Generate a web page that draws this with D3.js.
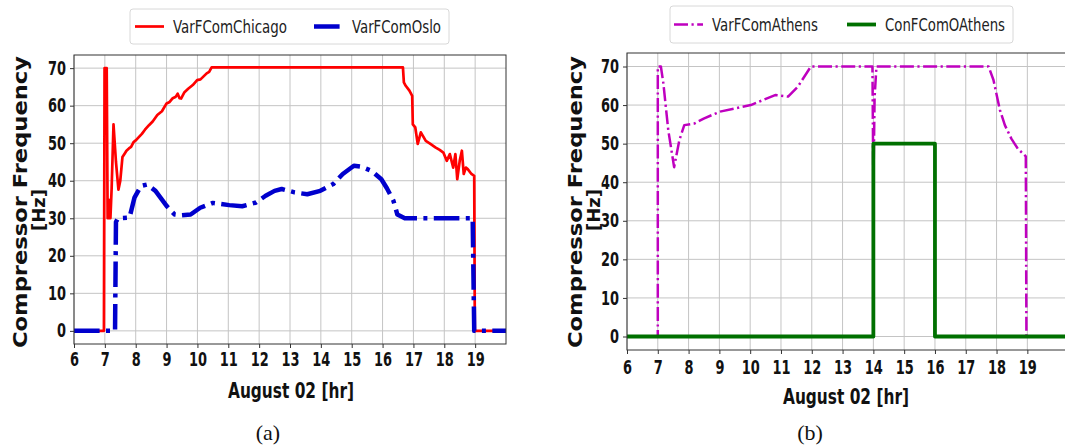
<!DOCTYPE html>
<html>
<head>
<meta charset="utf-8">
<script src="https://cdn.jsdelivr.net/npm/d3@7"></script>
<style>
  body { margin: 0; background: #fff; }
  svg { display: block; }
</style>
</head>
<body>
<svg id="chart" width="1065" height="448"></svg>
<script>
var hourTicks = [6, 7, 8, 9, 10, 11, 12, 13, 14, 15, 16, 17, 18, 19];
var freqTicks = [0, 10, 20, 30, 40, 50, 60, 70];

// (a) Chicago / Oslo
var chicagoHour = [6, 6.97, 6.99, 7.06, 7.09, 7.12, 7.15, 7.18, 7.22, 7.28, 7.36, 7.44, 7.5, 7.57, 7.64, 7.7, 7.78, 7.85, 7.93, 8.01, 8.1, 8.2, 8.3, 8.43, 8.55, 8.7, 8.85, 9.0, 9.1, 9.2, 9.3, 9.36, 9.42, 9.47, 9.58, 9.7, 9.85, 9.99, 10.1, 10.2, 10.3, 10.38, 10.46, 16.66, 16.69, 16.75, 16.87, 16.96, 16.98, 17.06, 17.14, 17.24, 17.4, 17.55, 17.71, 17.85, 17.97, 18.08, 18.18, 18.29, 18.36, 18.42, 18.5, 18.57, 18.63, 18.7, 18.76, 18.88, 18.97, 18.99, 20];
var chicagoFreq = [0, 0, 70, 70, 30, 35, 30, 30, 38, 55, 45, 37.6, 40, 46.3, 47.2, 48, 48.6, 49, 50.3, 50.8, 51.6, 52.5, 53.6, 54.8, 55.8, 57.5, 58.5, 60.6, 61, 62, 62.4, 63.2, 62, 61.9, 63.6, 64.5, 65.5, 66.8, 67, 67.8, 68.6, 69, 70.2, 70.2, 66.2, 65.3, 64, 62.6, 55, 54.2, 49.8, 52.9, 50.6, 49.8, 48.9, 48.2, 47.5, 45.3, 47.1, 43.5, 47.1, 40.4, 45.3, 48, 41.8, 43.5, 43.1, 41.8, 41.3, 0, 0];
var osloHour = [6, 7.33, 7.36, 7.42, 7.8, 7.96, 8.17, 8.37, 8.64, 9.0, 9.26, 9.5, 9.78, 10.09, 10.5, 11.03, 11.45, 11.9, 12.21, 12.5, 12.73, 13.15, 13.56, 13.98, 14.4, 14.71, 15.07, 15.33, 15.65, 15.96, 16.14, 16.35, 16.48, 16.72, 18.92, 18.97, 20];
var osloFreq = [0, 0, 29, 30, 30.2, 35.5, 38.6, 39, 37.3, 33.3, 31, 30.8, 31, 32.8, 34.1, 33.5, 33.2, 34.2, 36, 37.3, 37.8, 36.9, 36.4, 37.3, 39.1, 41.8, 44, 43.7, 42.6, 40.4, 38, 34.7, 31, 30, 30, 0, 0];

// (b) Athens
var athensHour = [6, 7.0, 7.0, 7.1, 7.18, 7.34, 7.53, 7.7, 7.86, 8.18, 8.49, 9.02, 10.02, 10.81, 11.23, 11.55, 11.97, 13.97, 14.0, 14.04, 14.1, 17.74, 17.9, 18.11, 18.27, 18.48, 18.69, 18.95, 18.97, 20.5];
var athensFreq = [0, 0, 70, 70, 65.7, 53.5, 43.9, 50.9, 54.8, 55.2, 56.5, 58.3, 60, 62.6, 62.2, 64.8, 70, 70, 38, 62, 70, 70, 66.5, 58.7, 54.8, 51.3, 48.7, 46.7, 0, 0];
var conAthensHour = [6, 14, 14, 16, 16, 20.5];
var conAthensFreq = [0, 0, 50, 50, 0, 0];

var svg = d3.select("#chart");
var tickFont = "'DejaVu Sans Condensed', 'DejaVu Sans', sans-serif";

function zip(xs, ys) {
  return xs.map(function(x, i) { return { x: x, y: ys[i] }; });
}

function drawPanel(p) {
  var x = d3.scaleLinear().domain(p.xDomain).range([p.left, p.right]);
  var y = d3.scaleLinear().domain([-3.5, 73.5]).range([p.bottom, p.top]);
  var g = svg.append("g");

  var clipId = "clip" + p.id;
  svg.append("clipPath").attr("id", clipId).append("rect")
    .attr("x", p.left).attr("y", p.top)
    .attr("width", p.right - p.left).attr("height", p.bottom - p.top);

  // grid
  g.selectAll(".vg").data(hourTicks).enter().append("line")
    .attr("x1", function(d) { return x(d); }).attr("x2", function(d) { return x(d); })
    .attr("y1", p.top).attr("y2", p.bottom)
    .attr("stroke", "#c4c4c4").attr("stroke-width", 1);
  g.selectAll(".hg").data(freqTicks).enter().append("line")
    .attr("x1", p.left).attr("x2", p.right)
    .attr("y1", function(d) { return y(d); }).attr("y2", function(d) { return y(d); })
    .attr("stroke", "#c4c4c4").attr("stroke-width", 1);

  // series
  var line = d3.line().x(function(d) { return x(d.x); }).y(function(d) { return y(d.y); });
  var plot = g.append("g").attr("clip-path", "url(#" + clipId + ")");
  p.series.forEach(function(s) {
    plot.append("path").datum(zip(s.hours, s.values))
      .attr("d", line).attr("fill", "none")
      .attr("stroke", s.color).attr("stroke-width", s.width)
      .attr("stroke-dasharray", s.dash || null)
      .attr("stroke-linejoin", "round");
  });

  // frame
  g.append("rect").attr("x", p.left).attr("y", p.top)
    .attr("width", p.right - p.left).attr("height", p.bottom - p.top)
    .attr("fill", "none").attr("stroke", "#333").attr("stroke-width", 1);

  // axes
  var xAxis = d3.axisBottom(x).tickValues(hourTicks).tickSize(4).tickPadding(p.xPad).tickFormat(d3.format("d"));
  var yAxis = d3.axisLeft(y).tickValues(freqTicks).tickSize(4).tickPadding(4);
  var xg = g.append("g").attr("transform", "translate(0," + p.bottom + ")").call(xAxis);
  var yg = g.append("g").attr("transform", "translate(" + p.left + ",0)").call(yAxis);
  [xg, yg].forEach(function(a) {
    a.select(".domain").remove();
    a.selectAll(".tick line").attr("stroke", "#333");
    a.selectAll(".tick text").attr("fill", "#111")
      .attr("textLength", function(d) { return String(d).length * 9; })
      .attr("lengthAdjust", "spacingAndGlyphs")
      .style("font-family", tickFont).style("font-weight", "bold").style("font-size", "19px");
  });

  // axis labels
  g.append("text").attr("x", p.xLabelX).attr("y", p.xLabelY)
    .attr("text-anchor", "middle").attr("textLength", 126).attr("lengthAdjust", "spacingAndGlyphs")
    .style("font-family", tickFont).style("font-weight", "bold").style("font-size", "22px")
    .attr("fill", "#111").text("August 02 [hr]");
  var yl = g.append("g").attr("transform", "translate(" + p.yLabelX + ",202) rotate(-90)");
  yl.append("text").attr("x", 0).attr("y", 0).attr("text-anchor", "middle")
    .attr("textLength", 292).attr("lengthAdjust", "spacingAndGlyphs")
    .style("font-family", "'DejaVu Sans', sans-serif").style("font-weight", "bold").style("font-size", "19px")
    .attr("fill", "#111").text("Compressor Frequency");
  yl.append("text").attr("x", -8).attr("y", 18).attr("text-anchor", "middle")
    .style("font-family", "'DejaVu Sans', sans-serif").style("font-weight", "bold").style("font-size", "18px")
    .attr("fill", "#111").text("[Hz]");

  // legend
  var lg = svg.append("g");
  lg.append("rect").attr("x", p.legend.x).attr("y", p.legend.y)
    .attr("width", p.legend.w).attr("height", p.legend.h).attr("rx", 3)
    .attr("fill", "#fff").attr("stroke", "#d8d8d8").attr("stroke-width", 1);
  p.series.forEach(function(s, i) {
    var e = p.legend.items[i];
    var cy = p.legend.y + p.legend.h / 2;
    lg.append("line").attr("x1", e.x).attr("x2", e.x + 29)
      .attr("y1", cy).attr("y2", cy)
      .attr("stroke", s.color).attr("stroke-width", s.width)
      .attr("stroke-dasharray", s.dash || null);
    lg.append("text").attr("x", e.x + 38).attr("y", cy + 6.5)
      .attr("textLength", e.tw).attr("lengthAdjust", "spacingAndGlyphs")
      .style("font-family", tickFont).style("font-size", "18px")
      .attr("fill", "#222").text(s.name);
  });

  // caption
  svg.append("text").attr("x", p.captionX).attr("y", 440).attr("text-anchor", "middle")
    .style("font-family", "'Liberation Serif', 'Times New Roman', serif").style("font-size", "22px")
    .attr("fill", "#111").text(p.caption);
}

drawPanel({
  id: "a", left: 74, right: 506, top: 55, bottom: 344, xDomain: [6, 20], xPad: 5,
  xLabelX: 291, xLabelY: 398, yLabelX: 27, captionX: 268, caption: "(a)",
  legend: { x: 130, y: 9, w: 319, h: 35, items: [{ x: 135, tw: 114 }, { x: 314, tw: 89 }] },
  series: [
    { name: "VarFComChicago", hours: chicagoHour, values: chicagoFreq, color: "#ff0000", width: 2.7 },
    { name: "VarFComOslo", hours: osloHour, values: osloFreq, color: "#0000cd", width: 4.5, dash: "25.6 6.4 4 6.4" }
  ]
});

drawPanel({
  id: "b", left: 627, right: 1072, top: 53, bottom: 350, xDomain: [6, 20.45], xPad: 7,
  xLabelX: 846, xLabelY: 404, yLabelX: 582, captionX: 810, caption: "(b)",
  legend: { x: 670, y: 6, w: 343, h: 37, items: [{ x: 674, tw: 106 }, { x: 847, tw: 120 }] },
  series: [
    { name: "VarFComAthens", hours: athensHour, values: athensFreq, color: "#bf00bf", width: 2.5, dash: "14 3.5 2.2 3.5" },
    { name: "ConFComOAthens", hours: conAthensHour, values: conAthensFreq, color: "#007000", width: 3.8 }
  ]
});
</script>
</body>
</html>
